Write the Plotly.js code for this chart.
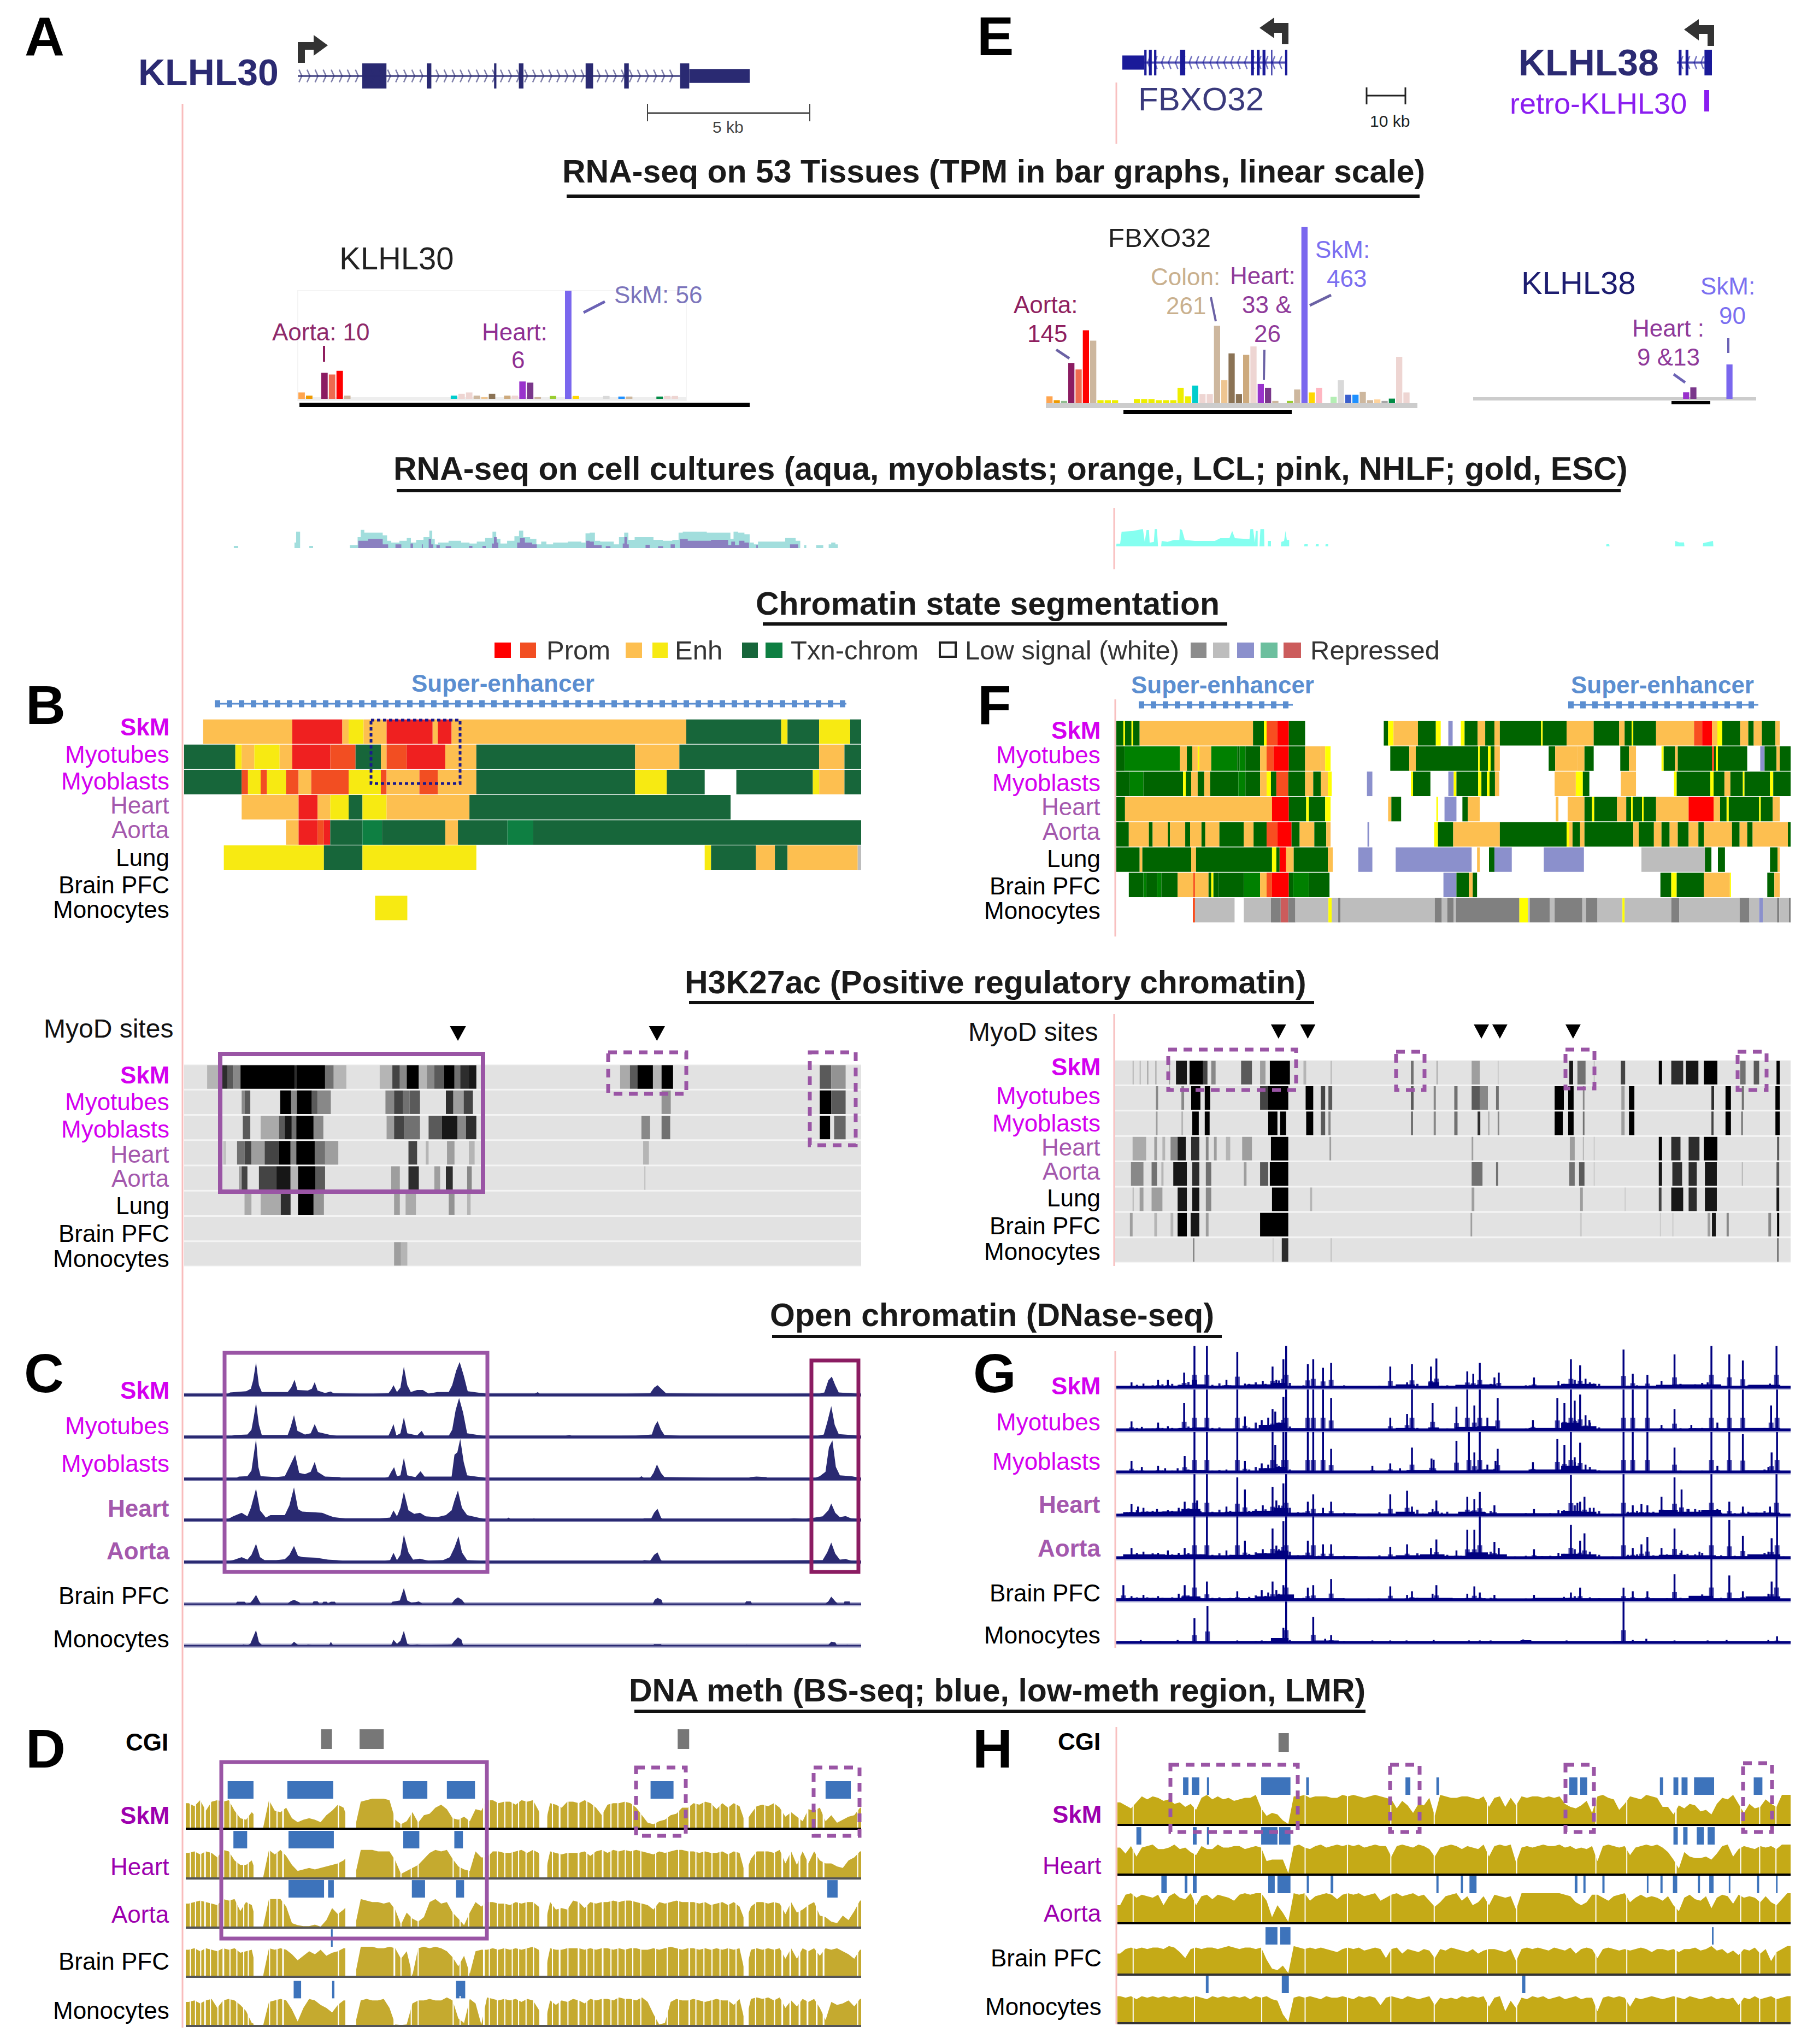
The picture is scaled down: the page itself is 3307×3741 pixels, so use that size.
<!DOCTYPE html>
<html><head><meta charset="utf-8">
<script src="https://cdn.plot.ly/plotly-3.0.1.min.js"></script>
<style>html,body{margin:0;padding:0;background:#fff}</style></head>
<body><div id="chart" style="width:3307px;height:3741px"></div>
<script>
// ---------- RNA-seq TPM per tissue (51 tissue bars) ----------
const tissueColors=['#FFA54F','#EE9A00','#8FBC8F','#8B1C62','#EE6A50','#FF0000','#CDB79E','#EEEE00','#EEEE00','#EEEE00','#EEEE00','#EEEE00','#EEEE00','#EEEE00','#EEEE00','#EEEE00','#EEEE00','#EEEE00','#EEEE00','#EEEE00','#00CDCD','#EED5D2','#EED5D2','#CDB79E','#EEC591','#8B7355','#8B7355','#CDAA7D','#EED5D2','#9932CC','#7A378B','#CDB79E','#CDB79E','#9ACD32','#CDB79E','#7A67EE','#FFD700','#FFB6C1','#CD9B1D','#B4EEB4','#D9D9D9','#3A5FCD','#1E90FF','#CDB79E','#CDB79E','#FFD39B','#A6A6A6','#008B45','#EED5D2','#EED5D2','#EED5D2'];
const tpmKLHL30=[3.3,1.7,0,13.5,12.6,14.5,1.7,0,0,0,0,0,0,0,0,0,0,0,0,0,1.7,2.6,3.3,1.7,0.9,2.6,0,1.7,1.7,9,8.4,0.9,0,1.5,0,56,1.5,0,0,0,1.5,0,1.2,1.2,0,0,0,1.2,1.5,1.5,0];
const tpmFBXO32=[18,8,6,105,88,190,163,8,8,8,0,0,11,11,11,8,8,8,40,18,46,24,24,202,60,130,24,126,148,50,40,6,0,6,36,460,28,40,0,17,60,22,22,30,8,10,6,12,121,28,0];
const tpmKLHL38=[0,0,0,0,0,0,0,0,0,0,0,0,0,0,0,0,0,0,0,0,0,0,0,0,0,0,0,0,0,17,30,0,0,0,0,90,0,0,0,0];

// ---------- gene models: exon [start,end] pairs ----------
const exonsKLHL30=[[630,672],[742,750],[859,863],[902,910],[1018,1031],[1085,1093],[1182,1198]];
const utrKLHL30=[[1198,1303]];
const exonsFBXO32=[[420,424],[428,433],[437,441],[482,491],[605,610],[615,620],[625,630],[640,642],[664,668]];
const utrFBXO32=[[382,420]];
const exonsKLHL38=[[1345,1350],[1357,1362],[1390,1403]];

// ---------- RNA-seq on cell cultures: x,h pairs ----------
const aquaLeft=[35,0,38,12,46,12,48,0,180,0,183,30,188,90,194,90,196,0,216,0,218,12,225,12,227,0,314,0,314,15,330,15,335,60,345,100,352,85,385,85,400,70,406,40,420,30,445,40,455,55,465,30,480,45,500,60,508,95,514,50,520,20,530,30,570,40,590,30,610,25,625,35,650,55,660,90,668,50,680,25,700,40,715,65,722,95,735,60,755,50,765,20,778,35,790,20,810,30,860,35,875,30,880,80,895,85,905,40,920,35,940,35,950,20,965,60,975,85,985,45,1005,60,1030,60,1050,45,1075,40,1095,45,1105,85,1115,90,1220,85,1228,50,1235,90,1250,85,1265,75,1275,30,1285,20,1295,35,1340,35,1370,55,1390,40,1392,0,1400,0,1401,15,1405,15,1406,0,1428,0,1430,15,1445,15,1447,0,1458,0,1460,20,1470,30,1480,20,1482,0];
const purpleLeft=[333,0,335,40,380,50,405,20,406,0,422,0,424,20,436,20,438,0,458,0,460,25,464,25,466,0,485,0,487,20,490,0,500,0,505,50,512,20,515,0,520,0,522,15,528,15,530,0,542,0,544,10,555,10,557,0,598,0,600,12,606,12,608,0,630,0,632,12,638,12,640,0,652,0,655,25,662,60,668,30,670,0,712,0,716,30,725,55,740,30,760,20,762,0,878,0,880,40,895,35,900,15,915,15,917,0,925,0,927,10,936,10,938,0,965,0,968,25,973,60,980,20,982,0,1020,0,1022,18,1030,18,1032,0,1050,0,1052,10,1062,10,1064,0,1080,0,1082,20,1090,20,1092,0,1102,0,1104,50,1140,40,1215,45,1222,15,1230,35,1240,15,1250,40,1265,30,1272,0,1285,0,1287,15,1292,0,1365,0,1368,20,1385,20,1387,0];
const aquaRight=[38,0,40,15,60,15,68,80,130,85,185,95,195,25,205,90,218,90,222,20,245,25,250,95,262,95,268,0,285,0,288,30,320,25,355,35,385,35,388,95,400,90,415,35,470,30,540,30,580,30,610,45,660,45,675,85,690,45,770,40,775,95,790,95,800,20,805,85,815,85,815,0,825,0,830,95,850,95,852,0,870,0,872,30,888,30,888,0,942,0,945,25,960,30,968,85,975,35,988,35,988,0,1070,0,1072,12,1090,12,1090,0,1133,0,1135,12,1150,12,1150,0,1187,0,1188,12,1202,12,1202,0,2728,0,2730,12,2745,12,2747,0,3106,0,3108,30,3130,22,3156,22,3158,0,3259,0,3261,18,3290,25,3315,30,3317,0];

// ---------- chromatin state segments: start,end,state ----------
const statesB=[
[353,508,'E',508,595,'R',595,606,'E',606,632,'Y',632,672,'E',672,752,'R',752,761,'E',761,785,'R',785,1193,'E',1193,1358,'G',1358,1369,'Y',1369,1424,'G',1424,1478,'Y',1478,1497,'G'],
[320,409,'G',409,420,'Y',420,442,'E',442,486,'Y',486,508,'E',508,574,'R',574,618,'O',618,662,'G',662,672,'E',672,707,'O',707,774,'R',774,828,'E',828,1104,'G',1104,1181,'E',1181,1424,'G',1424,1468,'E',1468,1497,'G'],
[320,420,'G',420,431,'O',431,453,'Y',453,464,'O',464,497,'Y',497,519,'O',519,541,'E',541,606,'O',606,662,'Y',662,672,'O',672,729,'E',729,761,'O',761,828,'E',828,1104,'G',1104,1159,'Y',1159,1225,'G',1280,1413,'G',1413,1424,'Y',1424,1468,'E',1468,1497,'G'],
[420,519,'E',519,552,'R',552,574,'E',574,606,'Y',606,630,'G',630,672,'Y',672,816,'E',816,1270,'G'],
[497,519,'E',519,552,'R',552,563,'O',563,574,'R',574,630,'G',630,664,'g',664,774,'G',774,796,'E',796,882,'G',882,927,'g',927,1497,'G'],
[389,563,'Y',563,630,'G',630,828,'Y',1225,1236,'Y',1236,1314,'G',1314,1347,'E',1347,1369,'G',1369,1491,'E',1491,1497,'L'],
[],
[652,708,'Y']];
const statesF=[
[295,308,'G',308,311,'Y',311,323,'G',323,326,'Y',326,338,'G',338,547,'E',547,567,'G',567,572,'Y',572,592,'O',592,613,'R',613,643,'G',788,796,'G',796,806,'Y',806,851,'E',851,884,'G',884,893,'Y',907,915,'B',930,937,'Y',937,961,'G',961,975,'E',975,992,'G',992,1002,'E',1002,1078,'G',1078,1081,'Y',1081,1125,'G',1125,1175,'E',1175,1222,'G',1222,1232,'E',1232,1245,'G',1245,1248,'Y',1248,1290,'G',1290,1360,'E',1360,1375,'O',1375,1393,'R',1393,1403,'E',1403,1412,'Y',1412,1445,'G',1445,1460,'E',1460,1470,'G',1470,1485,'E',1485,1510,'G',1510,1518,'E'],
[295,310,'G',310,412,'g',412,425,'E',425,435,'G',435,445,'E',445,448,'Y',448,470,'E',470,518,'g',518,522,'G',522,533,'g',533,560,'G',560,572,'E',572,585,'O',585,613,'R',613,643,'G',643,672,'E',672,680,'E',680,690,'Y',800,835,'G',835,847,'E',847,962,'G',962,965,'Y',965,980,'G',980,985,'Y',985,992,'G',992,1002,'E',1092,1104,'G',1104,1145,'E',1145,1158,'E',1158,1175,'G',1224,1240,'G',1240,1253,'E',1300,1304,'Y',1304,1325,'G',1325,1330,'E',1330,1393,'G',1393,1397,'O',1397,1400,'G',1400,1404,'Y',1404,1458,'G',1482,1490,'B',1490,1512,'G',1512,1518,'E',1518,1538,'G'],
[295,320,'G',320,345,'g',345,418,'G',418,423,'Y',423,433,'G',433,445,'E',445,457,'G',457,468,'E',468,520,'G',520,533,'g',533,560,'G',560,572,'E',572,580,'Y',580,590,'G',590,612,'O',612,643,'G',643,658,'E',658,672,'G',672,685,'E',685,692,'Y',757,767,'B',838,842,'Y',842,874,'G',907,917,'B',917,922,'Y',922,962,'G',962,968,'Y',968,978,'G',978,983,'Y',983,993,'G',993,1001,'E',1103,1142,'E',1142,1155,'Y',1155,1167,'G',1225,1253,'E',1323,1328,'Y',1328,1390,'G',1390,1396,'Y',1396,1416,'G',1416,1427,'E',1427,1450,'G',1450,1453,'Y',1453,1500,'G',1500,1506,'Y',1506,1538,'G'],
[295,311,'G',311,582,'E',582,613,'R',613,645,'G',645,650,'Y',650,680,'G',680,690,'Y',796,802,'E',802,820,'G',885,888,'Y',900,922,'B',933,943,'G',943,965,'E',1105,1110,'E',1127,1158,'E',1158,1172,'G',1172,1176,'Y',1176,1218,'G',1218,1235,'E',1235,1244,'G',1244,1247,'Y',1247,1264,'G',1264,1267,'Y',1267,1290,'G',1290,1350,'E',1350,1396,'R',1396,1408,'E',1408,1420,'G',1420,1424,'Y',1424,1480,'G',1480,1483,'Y',1483,1505,'G',1505,1518,'E'],
[295,318,'G',318,355,'E',355,362,'G',362,390,'E',390,394,'G',394,422,'E',422,431,'G',431,452,'E',452,459,'G',459,485,'E',485,530,'G',530,548,'E',548,572,'G',572,592,'O',592,618,'R',618,633,'G',633,660,'E',660,682,'G',682,690,'E',758,761,'B',881,888,'Y',888,916,'G',916,1002,'E',1002,1125,'G',1125,1130,'Y',1130,1136,'E',1136,1150,'G',1150,1158,'E',1158,1248,'G',1248,1258,'E',1258,1286,'G',1286,1300,'E',1300,1315,'G',1315,1330,'E',1330,1350,'G',1350,1368,'E',1368,1378,'G',1378,1430,'E',1430,1444,'G',1444,1458,'E',1458,1468,'G',1468,1533,'E',1533,1538,'G'],
[295,338,'G',338,343,'E',343,433,'G',433,442,'E',442,582,'G',582,590,'Y',590,596,'G',596,608,'R',608,622,'E',622,685,'G',685,694,'E',741,767,'B',810,950,'B',960,965,'E',982,992,'G',992,1024,'B',1083,1157,'B',1263,1380,'L',1380,1392,'G',1404,1417,'G',1500,1514,'G',1514,1518,'E'],
[318,345,'G',345,350,'g',350,370,'G',370,378,'g',378,408,'G',408,437,'E',437,440,'O',440,465,'E',465,470,'G',470,474,'Y',474,484,'G',484,530,'G',530,560,'g',560,572,'E',572,582,'O',582,613,'R',613,621,'G',621,650,'g',650,688,'G',898,922,'B',922,945,'G',945,952,'E',952,960,'G',1298,1318,'G',1318,1328,'Y',1328,1378,'G',1378,1426,'E',1426,1428,'Y',1495,1508,'G',1508,1518,'E'],
[436,440,'O',440,513,'L',530,580,'L',580,598,'D',598,612,'K',612,625,'D',625,686,'L',686,692,'Y',692,704,'L',704,708,'D',708,882,'L',882,895,'D',895,905,'L',905,917,'D',917,921,'L',921,1038,'D',1038,1054,'Y',1054,1057,'L',1057,1094,'D',1094,1103,'L',1103,1154,'D',1154,1161,'L',1161,1182,'D',1182,1228,'L',1228,1232,'Y',1232,1318,'L',1318,1333,'D',1333,1444,'L',1444,1462,'D',1462,1480,'L',1480,1487,'B',1487,1513,'L',1513,1517,'D',1517,1535,'L',1535,1538,'D']];

// ---------- H3K27ac signal segments: start,end,signal (0-1) ----------
const h3kLeft=[
[360,385,.2,385,395,.8,395,405,.6,405,418,.4,418,512,1,512,515,.8,515,565,1,565,580,.5,580,602,.2,660,682,.2,682,695,.7,695,707,.4,707,728,1,728,742,.2,742,755,.4,755,772,.6,772,790,1,790,800,.5,800,815,.8,815,828,.9,1078,1095,.25,1095,1108,.6,1108,1135,1,1135,1150,.2,1150,1170,1,1425,1445,.6,1445,1470,.35],
[420,425,.4,425,435,.6,487,506,1,506,516,.4,516,542,1,542,552,.6,552,575,.4,670,685,.4,685,700,.7,700,712,.5,712,730,.6,775,788,.8,788,806,.3,806,822,.7,1150,1166,.35,1425,1445,1,1445,1470,.6],
[422,435,.6,453,485,.25,485,495,.6,495,507,.9,507,515,.5,515,545,1,545,562,.4,672,685,.3,685,702,.7,702,730,.5,745,768,.6,768,795,.9,795,810,.4,810,828,.8,1115,1130,.4,1150,1165,.5,1425,1443,1,1450,1470,.55],
[388,393,.15,412,425,.5,425,437,.7,437,460,.3,460,485,.7,485,505,1,505,515,.4,515,547,1,547,565,.5,565,588,.3,710,725,.7,740,745,.2,777,790,.3,815,825,.2,1118,1128,.2],
[415,420,.3,420,430,.7,450,480,.7,480,505,.9,505,518,.2,518,548,1,548,565,.6,680,695,.3,710,728,.8,755,765,.3,775,787,.8,812,820,.4,1120,1122,.15],
[425,437,.25,453,488,.25,488,505,.8,518,545,1,545,563,.35,685,695,.3,705,723,.25,780,790,.35,812,818,.2],
[],
[685,697,.3,697,708,.2]];
const h3kRight=[
[325,327,.2,338,340,.2,352,354,.3,367,369,.3,392,394,.3,405,425,.9,430,455,1,455,463,.7,470,478,.4,525,545,.6,560,570,.3,578,615,1,640,645,.2,690,692,.2,838,843,.5,885,888,.2,950,965,.3,998,1000,.1,1130,1137,.9,1145,1160,.5,1175,1177,.15,1225,1233,.7,1295,1301,1,1318,1340,.8,1345,1368,.9,1378,1403,1,1445,1455,.5,1470,1480,.6,1512,1518,1],
[368,372,.4,415,420,.4,433,450,1,458,468,1,560,575,.7,575,612,1,644,658,1,672,680,.7,686,693,.6,838,843,.6,880,884,.4,918,924,.5,950,965,.6,965,980,.4,995,1000,.5,1103,1120,1,1128,1138,1,1155,1158,.4,1226,1232,.3,1240,1250,1,1392,1397,.8,1418,1428,1,1448,1452,.5,1510,1518,1],
[368,371,.3,415,418,.2,435,447,1,458,467,1,575,592,1,597,608,1,645,658,1,672,680,.6,686,690,.4,838,842,.5,880,884,.4,918,924,.5,961,966,.8,980,983,.2,998,1001,.4,1103,1118,1,1128,1138,1,1155,1158,.5,1226,1232,.3,1240,1250,1,1392,1396,.7,1418,1428,1,1447,1450,.5,1510,1518,1],
[325,350,.25,365,370,.3,380,385,.2,395,408,.4,408,423,.9,433,448,.8,460,465,.4,475,480,.3,497,505,.2,527,545,.3,580,612,1,688,691,.3,950,953,.3,1131,1140,.3,1155,1157,.2,1175,1177,.1,1295,1301,1,1318,1335,.8,1350,1370,.8,1378,1403,1,1513,1517,.6],
[322,345,.4,360,370,.5,378,382,.2,400,425,.9,435,448,.8,460,470,.5,530,535,.3,560,575,.6,578,612,1,950,970,.5,995,999,.5,1130,1140,.5,1148,1158,.6,1175,1177,.1,1295,1301,.9,1320,1338,.8,1350,1365,.8,1380,1402,.9,1448,1450,.2,1512,1517,.6],
[325,327,.2,338,345,.3,360,380,.3,408,425,.9,435,448,.9,460,470,.4,582,612,1,652,656,.2,950,955,.3,1150,1155,.3,1232,1234,.1,1295,1300,.7,1318,1340,.9,1350,1365,.8,1380,1402,.9,1512,1517,.9],
[320,325,.3,365,370,.2,395,400,.2,408,425,1,432,448,.9,460,465,.3,560,612,1,948,951,.3,1150,1153,.1,1297,1299,.1,1320,1322,.1,1385,1390,.3,1393,1400,.9,1420,1424,.4,1497,1502,.4,1513,1517,1],
[436,439,.4,583,585,.1,600,612,.8,690,692,.15,1513,1516,.5]];
const myodLeft=[796,1142];
const myodRight=[594,648,968,1002,1137];

// ---------- DNase-seq, left locus: x,h pairs ----------
const dnaseSkM=[320,2,395,2,400,10,415,12,428,15,436,25,440,60,445,134,450,40,455,12,500,12,506,30,512,62,517,20,535,18,542,25,547,52,552,18,565,8,575,14,580,6,640,4,675,6,680,22,684,40,690,12,696,30,702,116,708,40,714,12,725,20,735,20,745,5,760,12,780,12,786,40,793,100,799,135,806,80,813,15,845,5,930,5,935,12,938,4,1075,4,1130,6,1137,30,1143,40,1150,25,1158,6,1300,4,1425,5,1433,10,1440,60,1446,75,1452,40,1458,10,1497,4];
const dnaseMyotubes=[320,3,400,3,408,8,430,10,437,30,441,80,445,140,450,50,455,8,500,8,505,40,511,90,517,25,530,10,540,15,547,53,553,20,575,8,590,3,600,3,675,4,680,30,684,53,689,6,696,15,702,81,708,15,725,6,733,25,738,5,780,5,786,30,792,110,798,160,805,100,812,15,845,3,980,3,990,8,995,3,1105,5,1133,10,1138,45,1143,65,1149,30,1155,8,1195,3,1420,4,1432,10,1438,60,1445,127,1451,50,1458,12,1480,8,1497,4];
const dnaseMyoblasts=[320,2,410,2,415,10,430,12,437,35,441,100,445,165,449,50,453,12,480,8,495,12,503,50,513,100,520,25,530,20,540,30,547,70,552,30,565,10,590,8,595,2,665,2,675,8,680,30,685,49,690,12,696,15,702,87,708,15,722,8,731,32,738,10,785,10,790,100,795,110,800,165,806,70,812,15,840,6,845,2,1110,2,1115,12,1120,2,1130,4,1136,25,1142,60,1149,25,1155,8,1300,2,1305,8,1315,10,1332,8,1335,2,1415,2,1425,12,1435,30,1441,130,1447,159,1453,50,1460,15,1480,12,1497,4];
const dnaseHeart=[320,2,395,2,405,15,420,30,430,15,436,50,445,129,452,40,462,10,470,20,495,20,503,60,511,134,518,45,525,35,560,30,570,20,580,12,600,6,640,6,660,6,678,10,684,39,690,15,696,50,702,116,710,40,720,25,730,30,740,15,760,12,775,20,785,40,790,80,796,121,803,50,812,20,840,5,850,2,880,2,884,10,888,2,925,2,928,6,932,2,1115,2,1120,6,1132,6,1137,30,1143,46,1149,10,1152,2,1360,2,1380,6,1400,4,1430,15,1440,40,1445,68,1452,30,1460,12,1470,16,1480,6,1497,3];
const dnaseAorta=[320,2,395,2,405,8,420,20,430,10,437,30,445,75,452,20,460,8,480,8,495,12,503,30,511,66,518,25,527,20,550,18,570,10,585,8,600,3,665,3,678,8,684,38,690,8,696,30,702,112,710,40,718,10,730,14,745,5,770,8,782,20,790,60,797,106,803,40,812,8,845,3,1115,3,1120,8,1130,5,1137,30,1143,40,1149,8,1152,3,1430,8,1438,40,1445,80,1452,35,1460,10,1470,13,1480,5,1497,3];
const dnaseBrain=[320,2,410,2,412,10,425,10,428,2,435,5,440,20,445,38,450,15,453,2,500,2,505,12,511,18,520,8,522,2,543,2,545,12,552,12,555,2,560,2,562,10,568,10,570,2,575,10,582,10,584,2,680,2,682,10,695,15,702,66,708,15,715,6,722,8,728,11,734,2,785,2,790,18,796,28,803,18,808,2,1135,2,1138,18,1143,26,1150,18,1152,2,1295,2,1297,12,1305,12,1307,2,1435,2,1440,12,1445,31,1452,12,1456,2,1467,2,1468,11,1477,11,1478,2,1497,2];
const dnaseMono=[320,1,420,1,423,5,430,1,435,8,445,64,450,15,456,1,505,1,511,16,517,5,520,1,533,1,535,5,545,1,572,1,575,16,579,1,680,3,684,24,690,8,696,20,702,61,708,8,715,1,725,5,735,1,785,5,790,20,796,34,802,25,805,1,1135,1,1137,6,1149,6,1151,1,1297,1,1298,4,1300,1,1440,4,1445,16,1452,14,1455,1,1470,1,1473,4,1475,1,1497,1];

// ---------- DNase-seq, right locus: x,height spikes plus low-level signal ----------
const spikesSkM=[323,20,345,15,372,30,390,30,420,60,436,30,439,170,442,30,462,170,498,30,518,145,532,15,565,25,583,85,590,30,603,115,608,170,648,95,658,115,676,80,691,100,800,85,831,20,840,95,875,85,885,118,942,65,953,55,965,100,992,40,1000,60,1065,40,1110,25,1133,115,1150,90,1160,35,1175,15,1230,155,1247,55,1274,50,1300,25,1324,135,1385,20,1392,170,1425,135,1450,110,1500,15,1512,170];
const spikesMyotubes=[323,35,342,12,372,30,390,15,420,110,439,166,462,166,518,166,532,55,563,40,575,50,583,85,588,75,603,135,608,166,648,166,658,166,676,166,691,130,800,50,831,65,840,166,878,110,922,95,942,166,955,100,965,166,979,50,998,130,1063,40,1108,130,1121,110,1133,166,1140,120,1150,145,1160,60,1167,40,1230,166,1247,166,1274,166,1300,20,1324,85,1355,20,1392,166,1403,30,1425,166,1450,166,1502,100,1513,166];
const spikesMyoblasts=[323,45,342,20,372,25,385,15,408,15,421,65,439,164,462,164,498,10,518,164,532,45,563,35,575,30,583,164,588,110,603,164,608,164,648,164,658,164,676,164,691,95,767,25,800,35,818,15,840,100,876,55,880,50,922,128,945,164,955,80,965,164,979,30,994,45,998,95,1063,40,1108,135,1121,110,1133,164,1140,60,1150,120,1160,30,1230,164,1247,164,1274,164,1324,100,1392,164,1403,25,1425,164,1450,155,1497,20,1503,80,1513,164];
const spikesHeart=[323,45,335,35,345,30,370,25,390,20,410,30,421,55,439,168,444,60,462,168,498,35,518,155,532,105,565,40,583,115,590,60,603,130,608,168,648,55,658,85,676,30,691,55,800,85,831,100,840,35,878,25,885,60,942,75,955,65,965,95,992,40,1065,25,1110,20,1133,165,1145,50,1150,55,1158,75,1175,30,1230,168,1247,40,1263,45,1274,40,1300,75,1324,155,1337,105,1350,25,1370,20,1392,168,1403,25,1425,55,1450,35,1500,35,1512,168];
const spikesAorta=[323,40,345,25,372,20,390,30,410,20,421,40,439,170,462,170,498,30,518,170,532,70,565,35,583,120,590,50,603,150,608,170,648,70,658,170,676,55,691,55,800,45,831,55,875,40,885,75,922,30,942,115,955,115,965,170,992,65,1000,40,1065,35,1110,20,1133,135,1150,70,1158,100,1230,170,1247,40,1263,55,1274,85,1300,40,1324,120,1337,30,1370,25,1392,170,1425,155,1450,90,1497,25,1503,80,1513,170];
const spikesBrain=[308,60,323,15,345,20,372,15,410,25,421,60,439,168,462,75,518,35,563,40,575,30,583,75,590,40,603,60,608,168,648,50,658,60,691,85,800,55,831,20,840,35,878,25,885,60,942,25,955,55,965,30,992,20,1065,20,1133,30,1150,50,1230,50,1247,35,1274,35,1324,105,1392,168,1425,100,1450,35,1497,25,1503,75,1512,168];
const spikesMono=[340,10,375,5,408,10,439,100,463,150,518,8,563,8,603,60,608,168,658,105,680,15,691,30,767,8,800,8,830,8,880,10,945,8,965,8,985,8,1045,12,1125,8,1230,168,1247,10,1272,15,1324,8,1385,8,1420,10,1497,10,1513,25];
const grassX=[305,315,333,352,362,380,398,410,428,450,472,485,505,525,540,552,570,595,615,630,640,668,700,715,735,760,780,815,850,860,895,905,930,950,975,985,1010,1030,1050,1080,1095,1120,1140,1168,1185,1210,1238,1255,1285,1310,1335,1348,1362,1375,1410,1435,1460,1475,1490,1525];
const grassSkM=[4,3,10,6,8,12,14,10,22,8,10,16,8,5,14,20,14,28,18,6,8,5,3,8,4,3,6,4,14,4,6,8,4,12,8,14,3,3,8,4,6,14,30,20,14,3,6,8,5,8,14,10,12,18,6,4,8,4,6,3];
const grassMyotubes=[3,3,8,4,5,8,8,6,14,8,8,10,4,3,10,30,20,30,14,4,4,3,2,4,2,3,4,3,8,3,4,5,3,8,14,12,3,3,5,3,4,30,40,30,10,3,4,5,3,3,6,4,6,8,4,3,6,3,8,3];
const grassMyoblasts=[2,2,6,3,4,6,5,4,10,8,5,8,3,3,10,20,15,25,10,3,3,2,2,3,2,3,3,3,4,2,3,4,3,6,10,8,2,2,4,2,4,25,40,20,6,2,3,4,2,3,5,3,4,5,3,3,5,3,10,3];
const grassHeart=[6,12,20,15,18,14,18,20,28,16,14,22,18,12,18,24,24,40,30,12,10,8,6,10,8,6,12,8,22,6,10,14,8,16,12,16,5,5,8,6,8,20,40,30,16,6,14,18,14,20,30,25,25,20,10,8,14,10,16,5];
const grassAorta=[5,10,20,12,18,12,14,16,20,14,12,18,12,10,16,22,20,35,25,10,10,8,4,8,6,5,10,6,18,6,10,12,8,22,14,25,4,5,8,6,8,16,35,25,12,5,12,14,10,14,20,16,14,20,10,8,14,12,20,5];
const grassBrain=[8,6,10,10,8,8,10,8,18,8,8,10,8,5,12,18,16,25,16,5,8,5,3,6,4,5,5,4,8,4,5,6,4,8,6,8,3,3,5,3,5,12,15,10,6,4,6,6,5,6,8,6,6,22,8,5,8,5,14,4];
const grassMono=[2,2,3,2,4,2,4,6,4,5,3,4,2,3,4,6,6,14,10,4,3,5,2,6,2,3,4,3,5,2,3,4,2,4,3,4,3,4,8,4,4,3,4,3,3,2,3,3,2,2,4,2,3,3,4,3,2,3,4,2];
const floorSkM=[295,3,400,6,420,10,450,12,470,6,510,8,560,12,600,18,620,6,650,5,700,4,790,3,830,12,860,5,880,20,900,5,940,10,980,12,1010,3,1100,8,1130,14,1170,14,1190,3,1280,5,1300,10,1340,12,1400,12,1420,5,1500,10,1538,3];
const floorMyotubes=[295,3,400,5,420,8,450,10,480,4,540,5,575,20,600,30,620,6,700,3,790,3,830,8,860,3,880,10,900,3,940,12,980,15,1010,3,1100,8,1130,30,1170,15,1190,3,1300,3,1400,6,1500,8,1538,3];
const floorMyoblasts=[295,3,400,4,440,8,480,3,540,4,575,15,600,20,620,5,700,3,790,3,870,8,900,3,940,6,980,10,1010,3,1100,10,1130,25,1170,10,1190,3,1300,3,1400,4,1500,6,1538,3];
const floorHeart=[295,4,320,12,360,14,400,15,430,25,470,12,520,14,570,18,600,30,625,10,680,8,790,6,830,14,860,5,880,12,900,5,950,14,1000,8,1100,8,1130,18,1170,14,1190,5,1280,10,1310,20,1350,14,1400,20,1420,6,1500,10,1538,5];
const floorAorta=[295,4,320,14,370,14,400,12,440,14,480,10,530,12,575,18,600,30,625,10,690,6,790,4,830,10,880,14,920,8,960,22,1000,14,1030,4,1100,6,1130,16,1170,14,1190,4,1280,8,1310,12,1380,10,1420,6,1500,14,1538,5];
const floorBrain=[295,6,340,8,400,8,430,14,470,6,530,7,575,14,605,22,640,6,790,4,880,8,950,6,1000,4,1130,8,1170,6,1280,6,1320,6,1380,16,1410,6,1500,14,1538,5];
const floorMono=[295,2,420,3,450,4,560,5,600,18,625,4,690,8,720,3,900,4,1030,5,1050,9,1070,4,1180,3,1240,6,1300,3,1500,4,1538,2];

// ---------- DNA methylation, left locus: percent per 10-unit bin from x=320 ----------
const methLeftSkM=[85,75,95,60,90,95,90,95,60,35,30,55,35,5,95,60,55,70,35,22,30,35,30,22,45,60,80,70,15,5,90,95,100,100,100,95,30,15,25,55,20,45,50,70,80,65,35,30,40,25,65,60,95,95,85,90,90,80,95,90,95,60,3,85,80,70,90,90,85,95,85,70,45,80,85,85,90,85,70,45,20,15,25,30,45,50,70,70,85,80,90,85,65,85,70,85,75,20,50,75,80,75,85,70,40,55,40,25,65,60,70,25,45,20,30,40,45,70];
const methLeftHeart=[85,90,80,90,85,70,95,90,60,45,45,60,5,5,95,80,95,75,45,25,30,35,30,35,40,45,50,60,80,10,95,95,95,90,90,90,60,15,25,35,45,65,85,95,90,95,65,40,30,25,90,70,70,90,90,85,85,90,95,85,95,85,5,90,85,80,85,85,85,90,75,90,95,85,95,90,95,90,95,90,85,80,90,85,90,95,95,90,90,85,90,85,85,90,80,90,85,15,65,90,90,90,85,95,50,90,45,90,50,90,60,50,50,40,35,60,70,90];
const methLeftAorta=[80,85,90,85,80,75,95,90,95,55,85,75,5,5,95,95,95,70,15,8,5,5,10,3,25,65,45,60,80,5,95,90,85,85,80,85,60,10,50,30,20,35,85,95,80,85,50,30,8,50,85,70,85,85,80,80,75,85,80,85,85,70,5,85,60,65,60,90,85,65,85,80,85,85,90,85,90,90,85,80,75,60,85,80,85,90,85,85,85,80,85,75,80,85,75,85,70,20,70,85,85,80,85,80,45,85,50,60,75,85,40,35,20,15,40,25,55,90];
const methLeftBrain=[90,95,85,95,90,85,95,90,95,80,85,90,5,5,95,90,95,90,75,55,70,85,75,90,70,80,85,95,95,5,100,100,100,95,95,100,95,60,85,5,95,100,95,100,95,85,65,35,70,10,85,90,90,95,90,95,90,95,90,95,100,90,5,95,90,90,95,95,95,90,95,90,95,95,90,95,90,95,95,90,90,95,90,95,100,95,90,95,95,90,95,90,95,90,95,90,95,10,90,95,90,95,90,95,60,95,60,95,85,95,70,95,90,95,85,75,60,90];
const methLeftMono=[80,85,75,85,90,60,85,90,85,70,50,10,3,3,80,85,90,85,55,15,60,90,85,70,60,45,70,85,85,5,85,90,85,85,90,60,5,3,5,75,85,85,90,85,85,95,85,25,10,90,75,5,95,90,85,90,85,90,80,90,85,55,3,85,70,85,80,90,85,75,90,85,90,90,85,95,90,90,85,95,80,40,5,10,80,90,85,85,90,85,80,85,90,85,85,70,90,10,90,95,90,95,85,95,60,85,65,90,80,90,60,20,80,70,75,85,65,90];
const gapsLeft=[327,2,336,2,345,2,352,3,362,2,375,2,384,3,396,2,408,2,420,2,428,2,438,17,465,2,478,2,488,3,585,2,598,19,682,3,694,2,712,2,724,2,785,2,797,2,812,2,838,3,848,2,862,2,875,2,888,2,899,2,912,2,925,2,936,14,958,2,970,3,985,2,1003,3,1018,2,1030,2,1045,3,1060,2,1072,2,1085,2,1098,2,1112,2,1138,2,1158,2,1178,2,1196,3,1208,2,1222,2,1236,2,1250,2,1265,2,1278,2,1292,9,1312,2,1328,2,1345,2,1358,3,1372,3,1388,3,1402,3,1418,3,1430,3,1490,2];

// ---------- DNA methylation, right locus: percent per 10-unit bin from x=297 ----------
const methRightSkM=[75,65,55,75,95,85,95,90,80,85,70,75,60,70,50,90,100,85,95,85,90,80,85,90,90,100,55,30,40,35,15,3,95,95,100,90,95,95,95,90,90,100,95,100,95,90,95,100,95,90,85,55,80,65,40,70,65,90,30,100,95,90,90,95,95,90,85,95,60,90,95,60,90,65,95,90,95,95,90,95,90,95,70,60,55,65,80,40,95,100,90,85,50,70,95,90,85,100,95,90,60,60,35,65,55,70,65,45,50,35,70,90,85,100,70,40,70,55,60,85,70,60,100,100];
const methRightHeart=[90,70,95,60,90,95,100,85,85,90,100,85,90,75,65,95,85,85,100,90,90,95,95,85,90,95,90,45,50,50,50,5,95,100,90,85,95,100,90,95,100,95,100,95,100,90,95,100,95,95,60,95,100,95,90,100,95,85,60,90,95,100,95,85,95,90,85,100,60,95,100,95,100,40,90,95,90,95,100,95,95,100,90,95,85,90,85,95,45,95,100,95,90,95,65,90,95,100,95,100,90,75,50,20,75,60,55,55,60,50,70,95,100,60,85,95,90,85,95,90,95,85,100,100];
const methRightAorta=[60,95,100,85,95,90,85,95,60,90,100,85,80,100,60,90,95,80,95,90,85,75,95,100,95,100,100,75,20,60,35,5,100,95,100,75,90,95,100,95,80,95,100,95,100,90,95,100,75,85,95,100,90,95,100,90,95,75,55,70,90,95,100,75,90,60,70,90,60,95,90,85,90,45,100,100,100,100,100,100,100,100,95,90,70,60,70,95,95,85,75,90,95,100,70,85,95,85,90,85,75,90,60,40,85,95,80,75,90,50,85,95,90,65,95,85,90,85,70,90,70,60,80,100];
const methRightBrain=[70,85,90,85,90,85,90,90,85,95,90,75,55,85,90,85,90,90,85,90,95,90,85,90,90,85,90,50,20,15,30,5,95,90,85,90,85,90,85,80,75,85,90,85,90,80,85,90,85,55,85,90,70,85,80,75,85,80,55,85,80,90,85,80,75,85,70,80,85,85,80,75,85,45,85,90,85,90,85,80,90,85,80,90,70,85,90,85,55,85,90,85,80,85,80,85,90,85,75,85,85,80,85,75,85,85,90,80,85,95,80,85,70,80,65,85,80,90,70,85,45,75,85,95];
const methRightMono=[90,85,90,80,90,85,90,85,90,85,90,85,90,85,90,85,80,90,85,90,85,90,85,90,80,90,85,90,80,75,30,5,85,90,85,90,85,80,90,85,85,90,85,80,90,85,90,85,60,85,90,85,80,90,85,80,85,90,60,85,80,85,80,90,85,90,85,90,55,85,90,40,75,50,85,80,90,85,90,80,85,90,80,85,90,80,85,85,40,85,90,85,90,85,55,85,80,85,90,85,80,85,90,85,80,90,85,80,85,90,80,85,80,85,60,85,80,90,80,85,90,80,85,90];
const gapsRight=[325,2,438,2,562,2,642,2,720,2,800,2,880,2,978,2,1032,2,1178,2,1235,2,1325,3,1445,2,1480,2,1510,2];

// ---------- low-methylated regions and CpG islands: start,end pairs ----------
const lmrLeft=[[393,438,497,577,698,741,775,824,1130,1170,1435,1479],[403,427,499,578,699,727,788,803],[499,561,568,578,714,737,791,805,1438,1456],[573,576],[508,521,575,579,791,807]];
const lmrRight=[[418,428,434,448,462,466,562,616,645,650,828,837,885,890,1130,1145,1150,1163,1297,1303,1322,1331,1337,1348,1360,1397,1470,1486],[332,341,436,443,462,466,562,592,595,616,1322,1330,1340,1348,1365,1378,1385,1398],[378,388,421,426,436,443,575,587,592,616,646,650,690,695,885,889,930,934,946,959,1140,1145,1156,1160,1191,1195,1273,1276,1298,1302,1321,1329,1367,1371,1388,1396,1424,1427,1476,1480,1511,1514],[570,592,597,616,1393,1396],[460,465,600,613,1043,1049]];
const cgiLeft=[558,577,625,667,1178,1198];
const cgiRight=[594,613];

// ---------- labels ----------
const rowNames=['SkM','Myotubes','Myoblasts','Heart','Aorta','Lung','Brain PFC','Monocytes'];
const dnaseNames=['SkM','Myotubes','Myoblasts','Heart','Aorta','Brain PFC','Monocytes'];
const methNames=['SkM','Heart','Aorta','Brain PFC','Monocytes'];

// ---------- helpers ----------
const W=3307,H=3741,FONT='Liberation Sans, Arial, sans-serif';
const traces=[],shapes=[],annotations=[],layout={};
let axN=0;
const px=x=>x/W, py=y=>1-y/H;
function axes(x0,x1,yTop,yBot,xr,yr){
  axN++;const s=axN===1?'':axN;
  layout['xaxis'+s]={domain:[px(x0),px(x1)],range:xr,visible:false,fixedrange:true,anchor:'y'+s};
  layout['yaxis'+s]={domain:[py(yBot),py(yTop)],range:yr,visible:false,fixedrange:true,anchor:'x'+s};
  return {xaxis:'x'+s,yaxis:'y'+s};
}
function text(t,x,y,size,color,anchor,bold){
  annotations.push({text:bold?'<b>'+t+'</b>':t,x:px(x),y:py(y),xref:'paper',yref:'paper',showarrow:false,xanchor:anchor||'center',yanchor:'middle',font:{family:FONT,size:size,color:color||'#000'},borderpad:0,borderwidth:0});
}
function rect(x0,y0,x1,y1,fill,lineC,lw,dash,layer){
  shapes.push({type:'rect',layer:layer||'above',xref:'paper',yref:'paper',x0:px(x0),x1:px(x1),y0:py(y0),y1:py(y1),fillcolor:fill||'rgba(0,0,0,0)',line:lineC?{color:lineC,width:lw,dash:dash||'solid'}:{width:0}});
}
function line(x0,y0,x1,y1,c,w,dash){
  shapes.push({type:'line',xref:'paper',yref:'paper',x0:px(x0),x1:px(x1),y0:py(y0),y1:py(y1),line:{color:c,width:w,dash:dash||'solid'}});
}
function poly(pts,c){
  shapes.push({type:'path',xref:'paper',yref:'paper',path:'M'+pts.map(p=>px(p[0])+','+py(p[1])).join('L')+'Z',fillcolor:c,line:{width:0}});
}
function hbars(rows,colorOf,ax,w){
  const y=[],x=[],base=[],col=[];
  rows.forEach((r,i)=>{for(let k=0;k<r.length;k+=3){y.push(i);base.push(r[k]);x.push(r[k+1]-r[k]);col.push(colorOf(r[k+2]));}});
  traces.push({type:'bar',orientation:'h',y,x,base,width:w,marker:{color:col,line:{width:0}},hoverinfo:'skip',...ax});
}
function vspans(pairs,lo,hi,color,ax){
  const x=[],w=[];
  pairs.forEach(p=>{x.push((p[0]+p[1])/2);w.push(p[1]-p[0]);});
  traces.push({type:'bar',x,y:x.map(()=>hi-lo),base:x.map(()=>lo),width:w,marker:{color,line:{width:0}},hoverinfo:'skip',...ax});
}
const chunk2=a=>{const o=[];for(let i=0;i<a.length;i+=2)o.push([a[i],a[i+1]]);return o;};
function area(flat,color,ax,shape){
  const x=[],y=[];for(let i=0;i<flat.length;i+=2){x.push(flat[i]);y.push(flat[i+1]);}
  traces.push({type:'scatter',mode:'lines',x,y,fill:'tozeroy',fillcolor:color,line:{width:0,color,shape:shape||'linear'},hoverinfo:'skip',...ax});
}
function tissueBars(values,ax,w){
  const x=values.map((_,i)=>i);
  traces.push({type:'bar',x,y:values,width:w,marker:{color:values.map((_,i)=>tissueColors[i]),line:{width:0}},hoverinfo:'skip',...ax});
}
function gene(ax,exons,utr,from,to,color,dir,pitch){
  traces.push({type:'scatter',mode:'lines',x:[from,to],y:[0,0],line:{color:color,width:4},opacity:.75,hoverinfo:'skip',...ax});
  const cx=[],cy=[];
  for(let c=from+pitch/2;c<to;c+=pitch){cx.push(c-dir*pitch*.35,c,c-dir*pitch*.35,null);cy.push(.5,0,-.5,null);}
  traces.push({type:'scatter',mode:'lines',x:cx,y:cy,line:{color:color,width:2.5},opacity:.6,hoverinfo:'skip',...ax});
  vspans(exons,-1,1,color,ax);
  if(utr)vspans(utr,-.55,.55,color,ax);
}
const PANEL={SkM:'#d400f0',Myotubes:'#d400f0',Myoblasts:'#d400f0',Heart:'#a458ad',Aorta:'#a458ad',Lung:'#000','Brain PFC':'#000',Monocytes:'#000'};
const METH={SkM:'#9d00ae',Heart:'#9d00ae',Aorta:'#9d00ae','Brain PFC':'#000',Monocytes:'#000'};
const LBL=44;

// ---------- A/E header ----------
text('A',81,67,101,'#000','center',true);
text('E',1822,66,101,'#000','center',true);
text('B',83,1290,101,'#000','center',true);
text('F',1820,1290,101,'#000','center',true);
text('C',80,2513,101,'#000','center',true);
text('G',1820,2513,101,'#000','center',true);
text('D',83,3200,101,'#000','center',true);
text('H',1816,3200,101,'#000','center',true);

text('KLHL30',381,132,68,'#2b2a72','center',true);
gene(axes(545,1372,116,162,[518,1303],[-1,1]),exonsKLHL30,utrKLHL30,518,1182,'#2a2a72',1,14);
poly([[545,115],[545,77],[574,77],[574,64],[600,83],[574,102],[574,91],[558,91],[558,115]],'#333');
line(1185,207,1482,207,'#444',3);line(1185,190,1185,222,'#444',2);line(1482,190,1482,222,'#444',2);
text('5 kb',1332,232,30,'#444');

gene(axes(2054,2356,91,138,[382,668],[-1,1]),exonsFBXO32,utrFBXO32,420,668,'#1a1a99',-1,12);
poly([[2358,81],[2358,42],[2332,42],[2332,32],[2305,51],[2332,70],[2332,60],[2346,60],[2346,81]],'#333');
text('FBXO32',2198,182,60,'#3a3a7c');
line(2043,151,2043,263,'#f8c0c0',3);
line(2501,175,2572,175,'#222',3);line(2501,160,2501,191,'#222',3);line(2572,160,2572,191,'#222',3);
text('10 kb',2543,222,30,'#222');
text('KLHL38',2907,114,68,'#2b2a72','center',true);
gene(axes(3069,3133,91,138,[1342,1403],[-1,1]),exonsKLHL38,null,1342,1403,'#1a1a99',-1,12);
poly([[3137,84],[3137,46],[3109,46],[3109,35],[3082,54],[3109,74],[3109,62],[3125,62],[3125,84]],'#333');
text('retro-KLHL30',2925,189,54,'#8b1df0');
vspans([[1390,1398]],-1,1,'#8b1df0',axes(3119,3128,165,204,[1390,1398],[-1,1]));

line(334,190,334,3711,'#f9bcbc',3);

// ---------- section titles ----------
const TS=59;
function title(t,cx,y,x0,x1,uy){text(t,cx,y,TS,'#1a1a1a','center',true);line(x0,uy,x1,uy,'#111',6);}
title('RNA-seq on 53 Tissues (TPM in bar graphs, linear scale)',1818,314,1037,2598,359);
title('RNA-seq on cell cultures (aqua, myoblasts; orange, LCL; pink, NHLF; gold, ESC)',1850,858,726,2966,898);
title('Chromatin state segmentation',1807,1105,1396,2246,1142);
title('H3K27ac (Positive regulatory chromatin)',1822,1798,1261,2405,1835);
title('Open chromatin (DNase-seq)',1815,2407,1413,2236,2446);
title('DNA meth (BS-seq; blue, low-meth region, LMR)',1825,3094,1161,2499,3132);

// ---------- tissue bar charts ----------
rect(545,532,1256,733,'#fff','#f4f4f4',2,null,'below');
rect(545,727,1256,733,'#eeeeee',null,0,null,'below');
tissueBars(tpmKLHL30,axes(545,1256,532,730,[-.5,50.5],[0,56]),.85);
rect(548,737,1372,745,'#000');
text('KLHL30',726,472,58,'#222');
text('SkM: 56',1204,540,44,'#7b74bb');line(1068,572,1107,552,'#6b62b5',5);
text('Aorta: 10',587,607,44,'#8f2a6a');line(593,633,593,662,'#8f1f5f',4);
text('Heart:',942,607,44,'#8f2f93');text('6',948,659,44,'#8f2f93');

rect(1914,738,2594,747,'#cccccc',null,0,null,'below');
tissueBars(tpmFBXO32,axes(1914,2594,415,738,[-.5,50.5],[0,460]),.85);
rect(2056,750,2364,758,'#000');
text('FBXO32',2122,435,49,'#222');
text('Colon:',2169,507,44,'#c9b08e');text('261',2170,559,44,'#c9b08e');line(2216,544,2225,588,'#6b62a5',4);
text('Heart:',2311,504,44,'#8f3a9a');text('33 &amp;',2318,558,44,'#8f3a9a');text('26',2319,610,44,'#8f3a9a');line(2314,640,2313,695,'#6b62a5',4);
text('SkM:',2457,457,44,'#7b6ff0');text('463',2464,509,44,'#7b6ff0');line(2397,559,2436,540,'#6b62a5',5);
text('Aorta:',1914,558,44,'#8f1f5f');text('145',1916,610,44,'#8f1f5f');line(1933,640,1957,656,'#6b62a5',5);

rect(2696,727,3214,733,'#cccccc',null,0,null,'below');
tissueBars(tpmKLHL38,axes(2696,3214,667,730,[-.5,38.7],[0,90]),.85);
rect(3059,734,3130,740,'#000');
text('KLHL38',2889,517,58,'#1d1d70');
text('SkM:',3162,524,44,'#7b6ff0');text('90',3170,577,44,'#7b6ff0');line(3163,619,3163,646,'#6b62b5',4);
text('Heart :',3053,600,44,'#8f3a9a');text('9 &amp;13',3053,653,44,'#8f3a9a');line(3063,685,3084,700,'#6b62b5',5);

// ---------- cell culture tracks ----------
const axCL=axes(400,1600,950,1003,[0,1568],[0,159]);
area(aquaLeft,'#a2dedd',axCL,'hvh');area(purpleLeft,'#8a80c0',axCL,'hvh');
area(aquaRight,'#85fff0',axes(2030,3300,950,1000,[0,3810],[0,150]));
line(2039,930,2039,1042,'#f8c0c0',3);

// ---------- legend ----------
[[905,935,'#ff0000'],[952,981,'#f24e22'],[1145,1175,'#fdbf50'],[1194,1222,'#f7ea12'],[1358,1387,'#17663a'],[1401,1432,'#0e7f42'],[2179,2208,'#8c8c8c'],[2220,2250,'#bdbdbd'],[2264,2295,'#8b90cc'],[2307,2338,'#6cbf9e'],[2349,2381,'#cc5c5c']].forEach(s=>rect(s[0],1176,s[1],1204,s[2]));
rect(1720,1176,1749,1202,'#fff','#222',4);
text('Prom',1000,1190,49,'#333','left');text('Enh',1235,1190,49,'#333','left');text('Txn-chrom',1447,1190,49,'#333','left');
text('Low signal (white)',1766,1190,49,'#333','left');text('Repressed',2398,1190,49,'#333','left');

// ---------- chromatin states ----------
const stateB={R:'#ef2020',O:'#f24e22',E:'#fdbf50',Y:'#f7ea12',G:'#17663a',g:'#0e7f42',L:'#bdbdbd'};
const stateF={R:'#ff0000',O:'#f84e20',E:'#fdbf50',Y:'#ffff00',G:'#006400',g:'#008000',B:'#8b90cc',L:'#bdbdbd',D:'#808080',K:'#cc5c5c'};
hbars(statesB,s=>stateB[s],axes(337,1576,1316,1685,[320,1497],[7.5,-.5]),.97);
hbars(statesF,s=>stateF[s],axes(2041,3277,1319,1689,[293,1538],[7.5,-.5]),.97);
rect(679,1318,842,1434,null,'#1a1a8c',5,'6px,5px');
[1330,1380,1430,1473,1519,1569,1619,1664].forEach((y,i)=>text(rowNames[i],310,y,LBL,PANEL[rowNames[i]],'right',i===0));
[1337,1382,1432,1476,1521,1571,1621,1666].forEach((y,i)=>text(rowNames[i],2014,y,LBL,PANEL[rowNames[i]],'right',i===0));
line(2041,1280,2041,1714,'#f8c0c0',3);
text('Super-enhancer',920,1250,44,'#5b8ed0','center',true);
text('Super-enhancer',2237,1253,44,'#5b8ed0','center',true);
text('Super-enhancer',3042,1253,44,'#5b8ed0','center',true);
[[393,1549,1288,'#5b8ed0'],[2084,2366,1290,'#5b8ed0'],[2870,3218,1290,'#5b8ed0']].forEach(s=>{line(s[0],s[2],s[1],s[2],s[3],3);line(s[0],s[2],s[1],s[2],s[3],13,'10px,12px');});

// ---------- H3K27ac ----------
const grey=i=>{const v=Math.round(226*(1-i));return 'rgb('+v+','+v+','+v+')';};
function h3k(rows,x0,x1,yT,yB,xr){
  rect(x0,yT,x1,yB,'#f4f4f4',null,0,null,'below');
  const ax=axes(x0,x1,yT,yB,xr,[7.5,-.5]);
  hbars(rows.map(()=>[xr[0],xr[1],0]),grey,ax,.93);
  hbars(rows,grey,ax,.93);
}
h3k(h3kLeft,337,1576,1948,2318,[320,1497]);
h3k(h3kRight,2041,3277,1940,2311,[293,1538]);
[1967,2016,2066,2112,2156,2206,2257,2303].forEach((y,i)=>text(rowNames[i],310,y,LBL,PANEL[rowNames[i]],'right',i===0));
[1953,2005,2055,2099,2143,2192,2243,2290].forEach((y,i)=>text(rowNames[i],2014,y,LBL,PANEL[rowNames[i]],'right',i===0));
text('MyoD sites',317,1882,48,'#111','right');text('MyoD sites',2009,1888,48,'#111','right');
line(2039,1856,2039,2317,'#f8c0c0',3);
function sites(vals,x0,x1,yT,yB,xr){
  const x=[],y=[];
  vals.forEach(v=>{x.push(v-14,v+14,v,v-14,null);y.push(1,1,0,1,null);});
  traces.push({type:'scatter',mode:'lines',x,y,fill:'toself',fillcolor:'#000',line:{width:0},hoverinfo:'skip',...axes(x0,x1,yT,yB,xr,[0,1])});
}
sites(myodLeft,337,1576,1878,1905,[320,1497]);
sites(myodRight,2041,3277,1875,1901,[293,1538]);
const PUR='#9a55a5',DASH='16px,12px';
rect(403,1929,884,2181,null,PUR,8);
rect(1113,1926,1256,2002,null,PUR,7,DASH);
rect(1482,1926,1566,2096,null,PUR,7,DASH);
rect(2138,1921,2372,1995,null,PUR,7,DASH);
rect(2555,1925,2607,1995,null,PUR,7,DASH);
rect(2865,1921,2918,1992,null,PUR,7,DASH);
rect(3180,1925,3233,1995,null,PUR,7,DASH);

// ---------- DNase ----------
const dnaseL=[dnaseSkM,dnaseMyotubes,dnaseMyoblasts,dnaseHeart,dnaseAorta,dnaseBrain,dnaseMono];
const baseL=[2553,2630,2707,2782,2859,2936,3012];
dnaseL.forEach((d,i)=>{
  const b=baseL[i];
  rect(337,b-4,1576,b+4,'#b8b8d6',null,0,null,'below');
  area(d,'#2a2a72',axes(337,1576,b-78,b,[320,1497],[0,175]));
  line(337,b,1576,b,'#2a2a72',i<5?5:3);
});
[2544,2609,2678,2760,2838,2920,2999].forEach((y,i)=>text(dnaseNames[i],310,y,LBL,i<3?'#d400f0':PANEL[dnaseNames[i]],'right',i===0||i===3||i===4));
rect(411,2476,892,2877,null,PUR,7);
rect(1485,2490,1571,2877,null,'#8b1c62',7);
const spikesR=[spikesSkM,spikesMyotubes,spikesMyoblasts,spikesHeart,spikesAorta,spikesBrain,spikesMono];
const grassR=[grassSkM,grassMyotubes,grassMyoblasts,grassHeart,grassAorta,grassBrain,grassMono];
const floorsR=[floorSkM,floorMyotubes,floorMyoblasts,floorHeart,floorAorta,floorBrain,floorMono];
const baseR=[2539,2617,2694,2773,2851,2928,3006];
spikesR.forEach((s,i)=>{
  const b=baseR[i],ax=axes(2043,3277,b-78,b,[295,1538],[0,175]);
  rect(2043,b-3,3277,b+5,'#c5c5e2',null,0,null,'below');
  area(floorsR[i],'#000080',ax,'hvh');
  const pts=chunk2(s);
  traces.push({type:'bar',x:pts.map(p=>p[0]),y:pts.map(p=>p[1]*.3),width:9,marker:{color:'#4a4aa8',line:{width:0}},hoverinfo:'skip',...ax});
  traces.push({type:'bar',x:grassX,y:grassR[i],width:4,marker:{color:'#1a1a90',line:{width:0}},hoverinfo:'skip',...ax});
  traces.push({type:'bar',x:pts.map(p=>p[0]),y:pts.map(p=>p[1]),width:3.5,marker:{color:'#000080',line:{width:0}},hoverinfo:'skip',...ax});
  line(2043,b,3277,b,'#000080',5);
});
[2536,2602,2674,2753,2833,2915,2992].forEach((y,i)=>text(dnaseNames[i],2014,y,LBL,i<3?'#d400f0':PANEL[dnaseNames[i]],'right',i===0||i===3||i===4));
line(2041,2473,2041,3016,'#f8c0c0',3);

// ---------- methylation ----------
function meth(vals,start,gaps,lmr,lmrBase,x0,x1,b,xr,gold,lineC){
  const ax=axes(x0,x1,b-88,b,xr,[0,160]);
  const x=[start],y=[vals[0]];
  vals.forEach((v,i)=>{x.push(start+10*i+5);y.push(v);});
  x.push(xr[1]);y.push(vals[vals.length-1]);
  traces.push({type:'scatter',mode:'lines',x,y,fill:'tozeroy',fillcolor:gold,line:{width:0,color:gold},hoverinfo:'skip',...ax});
  const gx=[],gy=[];
  chunk2(gaps).forEach(g=>{gx.push(g[0],g[0],g[0]+g[1],g[0]+g[1],g[0],null);gy.push(0,100,100,0,0,null);});
  traces.push({type:'scatter',mode:'lines',x:gx,y:gy,fill:'toself',fillcolor:'#fff',line:{width:0},hoverinfo:'skip',...ax});
  vspans(chunk2(lmr),lmrBase,lmrBase+58,'#3d73bb',ax);
  line(x0,b,x1,b,lineC,4);
}
const methL=[methLeftSkM,methLeftHeart,methLeftAorta,methLeftBrain,methLeftMono];
const methR=[methRightSkM,methRightHeart,methRightAorta,methRightBrain,methRightMono];
[3347,3438,3528,3618,3708].forEach((b,i)=>meth(methL[i],320,gapsLeft,lmrLeft[i],i===4?92:100,340,1576,b,[320,1497],'#c5aa2f',i===0?'#000':'#555'));
[3340,3431,3520,3614,3703].forEach((b,i)=>meth(methR[i],297,gapsRight,lmrRight[i],100,2045,3277,b,[297,1538],'#c5aa17',i<3?'#000':'#333'));
vspans(chunk2(cgiLeft),0,1,'#777',axes(337,1576,3165,3201,[320,1497],[0,1]));
vspans(chunk2(cgiRight),0,1,'#777',axes(2041,3277,3172,3207,[293,1538],[0,1]));
text('CGI',308,3188,LBL,'#000','right',true);text('CGI',2014,3187,LBL,'#000','right',true);
[3322,3416,3503,3589,3679].forEach((y,i)=>text(methNames[i],310,y,LBL,METH[methNames[i]],'right',i===0));
[3320,3414,3501,3583,3672].forEach((y,i)=>text(methNames[i],2016,y,LBL,METH[methNames[i]],'right',i===0));
line(2043,3161,2043,3705,'#f8c0c0',3);
rect(405,3225,891,3548,null,PUR,7);
rect(1164,3235,1255,3360,null,PUR,7,DASH);
rect(1489,3235,1573,3360,null,PUR,7,DASH);
rect(2142,3230,2375,3353,null,PUR,7,DASH);
rect(2544,3230,2598,3353,null,PUR,7,DASH);
rect(2865,3230,2917,3353,null,PUR,7,DASH);
rect(3190,3227,3243,3353,null,PUR,7,DASH);

Object.assign(layout,{width:W,height:H,margin:{l:0,r:0,t:0,b:0},paper_bgcolor:'#fff',plot_bgcolor:'rgba(0,0,0,0)',showlegend:false,barmode:'overlay',dragmode:false,shapes,annotations,font:{family:FONT}});
Plotly.newPlot('chart',traces,layout,{displayModeBar:false,staticPlot:true,responsive:false});
</script></body></html>
